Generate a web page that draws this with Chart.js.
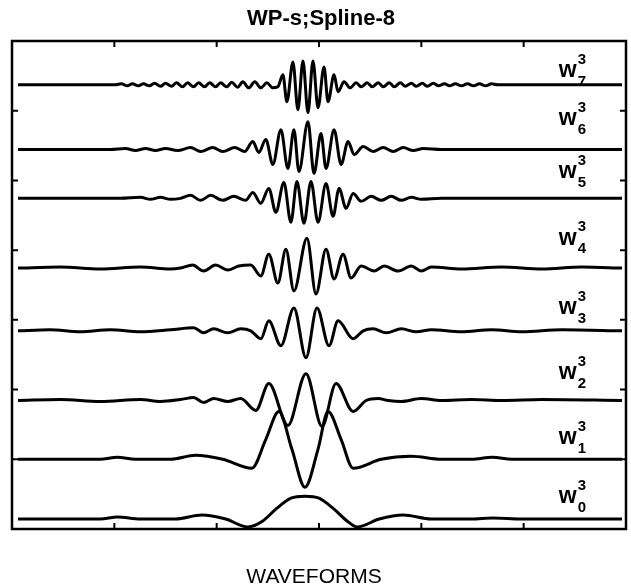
<!DOCTYPE html>
<html>
<head>
<meta charset="utf-8">
<script src="https://cdn.jsdelivr.net/npm/chart.js@4.4.0/dist/chart.umd.min.js"></script>
<style>
  html, body { margin: 0; padding: 0; background: #fff; }
  #wrap { width: 631px; height: 588px; }
</style>
</head>
<body>
<div id="wrap"><canvas id="wpChart" width="631" height="588"></canvas></div>
<script>
// ===== WP-s;Spline-8 — wavelet packet waveforms, level 3 =====

const chartTitle = 'WP-s;Spline-8';
const xTitle = 'WAVEFORMS';

// packet index k for w^3_k, bottom to top
const packetIdx = ['0', '1', '2', '3', '4', '5', '6', '7'];
// baseline of each trace and height of its label (y units)
const baseLevels = [10, 70, 129, 199, 262, 332, 381, 446];
const labelLevels = [32, 92, 157, 222, 292, 359, 412, 460];

// axis ticks (no tick labels in the figure)
const xTickVals = [102, 204, 306, 408, 510];
const yTickVals = [70, 140, 210, 280, 350, 420];

// ===== traces: sample positions + amplitude about the baseline =====
const xW0 = [6, 88, 105, 128, 163, 189, 213, 235, 250, 263, 278, 292, 306, 321, 334, 344, 366, 390, 418, 458, 479, 508, 608];
const yW0 = [0, 0, 2, 0, 0, 4, 0, -8, -2, 10, 21, 23, 21, 10, -2, -8, 0, 4, 0, 0, 1, 0, 0];

const xW1 = [6, 88, 105, 123, 158, 183, 210, 239, 253, 266, 279, 292, 305, 315, 328, 340, 368, 398, 428, 458, 479, 498, 608];
const yW1 = [0, 0, 2, 0, 0, 4, 0, -9, 20, 48, 10, -28, 10, 48, 20, -9, 0, 3, 0, 0, 2, 0, 0];

const xW2 = [6, 48, 88, 128, 148, 168, 181, 191, 201, 215, 228, 243, 256, 275, 293, 309, 323, 340, 353, 365, 375, 388, 408, 428, 458, 488, 528, 608];
const yW2 = [0, 1, -1, 1, -1, 1, 3, -2, 2, -1, 2, -10, 17, -25, 27, -26, 17, -11, 0, 2, 0, -1, 2, 0, 1, 0, 1, 0];

const xW3 = [6, 38, 68, 98, 128, 158, 181, 191, 201, 215, 228, 238, 248, 256, 268, 281, 293, 304, 316, 325, 340, 350, 360, 373, 388, 403, 418, 448, 478, 508, 548, 608];
const yW3 = [0, 1, -1, 1, -1, 1, 3, -2, 2, -2, 2, 0, -8, 10, -15, 23, -27, 23, -15, 10, -8, 0, 2, -2, 2, -1, 1, -1, 1, -1, 1, 0];

const xW4 = [6, 48, 88, 128, 158, 168, 180, 191, 203, 215, 226, 238, 248, 256, 265, 273, 281, 294, 303, 313, 321, 330, 338, 348, 361, 371, 385, 398, 408, 418, 448, 488, 528, 568, 608];
const yW4 = [0, 1, -1, 1, -1, 0, 3, -3, 3, -2, 2, 3, -8, 14, -15, 19, -23, 30, -26, 19, -11, 14, -10, 2, -3, 2, -3, 2, -3, 1, -1, 1, -1, 1, 0];

const xW5 = [6, 108, 128, 138, 148, 158, 168, 178, 188, 198, 210, 221, 233, 240, 248, 256, 263, 271, 278, 284, 291, 298, 305, 313, 320, 326, 333, 340, 348, 358, 368, 378, 388, 398, 408, 428, 608];
const yW5 = [0, 0, 1, -1, 1, -1, 0, 3, -2, 3, -2, 2, -2, 6, -5, 10, -14, 16, -24, 17, -25, 17, -24, 15, -18, 10, -10, 5, -3, 2, -2, 2, -2, 1, -1, 0, 0];

const xW6 = [6, 98, 113, 123, 133, 143, 153, 165, 178, 188, 200, 210, 222, 232, 240, 246, 253, 260, 268, 275, 281, 286, 295, 301, 308, 313, 321, 328, 335, 341, 350, 360, 370, 380, 390, 400, 410, 428, 608];
const yW6 = [0, 0, 1, -1, 1, -1, 1, -1, 2, -2, 2, -2, 2, -2, 8, -3, 10, -15, 20, -19, 20, -22, 28, -24, 16, -19, 20, -15, 8, -5, 3, -2, 2, -2, 2, -1, 1, 0, 0];

const xW7 = [6, 103, 109, 115, 120, 126, 131, 137, 142, 148, 153, 159, 164, 170, 175, 181, 186, 192, 197, 203, 208, 214, 219, 225, 230, 236, 242, 248, 254, 260, 265, 270, 274, 280, 285, 290, 295, 300, 305, 311, 315, 321, 325, 331, 337, 343, 348, 354, 359, 365, 370, 376, 381, 387, 392, 398, 403, 409, 414, 420, 425, 431, 436, 442, 448, 454, 460, 466, 472, 478, 484, 608];
const yW7 = [0, 0, 1, -1, 1, -1, 1, -1, 1.5, -1.5, 1.5, -1.5, 2, -2, 2, -2, 2, -2, 2, -2, 2, -2, 2.5, -2.5, 3, -3, 3, -3, 2, -3, -2, 10, -17, 23, -25, 24, -28, 24, -23, 18, -17, 10, -7, 3, -3, 2, -2, 2, -2, 2, -2, 2, -2, 2, -1.5, 1.5, -1.5, 1.5, -1.5, 1.5, -1, 1, -1, 1, -1, 1, -1, 1, -1, 1, 0, 0];

const traceX = [xW0, xW1, xW2, xW3, xW4, xW5, xW6, xW7];
const traceY = [yW0, yW1, yW2, yW3, yW4, yW5, yW6, yW7];

// ===== Common style =====
const fontFamily = "'Liberation Sans', Arial, Helvetica, sans-serif";
const ink = '#000000';

// ===== Frame, inward ticks, trace labels, titles =====
const framePlugin = {
  id: 'framePlugin',
  afterDatasetsDraw(chart) {
    const { ctx, chartArea: a, scales: { x, y } } = chart;
    ctx.save();
    ctx.strokeStyle = ink;
    ctx.fillStyle = ink;

    // box
    ctx.lineWidth = 2.5;
    ctx.strokeRect(a.left, a.top, a.right - a.left, a.bottom - a.top);

    // ticks pointing into the box
    ctx.lineWidth = 2;
    ctx.beginPath();
    xTickVals.forEach(v => {
      const px = x.getPixelForValue(v);
      ctx.moveTo(px, a.top); ctx.lineTo(px, a.top + 6);
      ctx.moveTo(px, a.bottom); ctx.lineTo(px, a.bottom - 6);
    });
    yTickVals.forEach(v => {
      const py = y.getPixelForValue(v);
      ctx.moveTo(a.left, py); ctx.lineTo(a.left + 6, py);
      ctx.moveTo(a.right, py); ctx.lineTo(a.right - 6, py);
    });
    ctx.stroke();

    // w^3_k labels
    ctx.textBaseline = 'middle';
    ctx.textAlign = 'left';
    packetIdx.forEach((k, i) => {
      const px = x.getPixelForValue(545);
      const py = y.getPixelForValue(labelLevels[i]);
      ctx.font = 'bold 23px ' + fontFamily;
      ctx.fillText('w', px, py);
      const wWidth = ctx.measureText('w').width;
      ctx.font = 'bold 15px ' + fontFamily;
      ctx.fillText('3', px + wWidth + 1, py - 11);
      ctx.fillText(k, px + wWidth + 1, py + 11);
    });

    // title and axis caption
    const cx = (a.left + a.right) / 2;
    ctx.textAlign = 'center';
    ctx.font = 'bold 22px ' + fontFamily;
    ctx.fillText(chartTitle, cx + 2, 19);
    ctx.font = '21px ' + fontFamily;
    ctx.fillText(xTitle, cx - 5, 577);
    ctx.restore();
  }
};

// ===== Build chart =====
function initWaveChart() {
  const el = document.getElementById('wpChart');
  if (!el) return;

  const datasets = packetIdx.map((k, i) => ({
    label: 'w3_' + k,
    data: traceX[i].map((xv, j) => ({ x: xv, y: baseLevels[i] + traceY[i][j] })),
    borderColor: ink,
    borderWidth: 3,
    pointRadius: 0,
    fill: false,
    cubicInterpolationMode: 'monotone'
  }));

  new Chart(el, {
    type: 'line',
    data: { datasets },
    options: {
      responsive: false,
      animation: false,
      devicePixelRatio: 1,
      layout: { padding: { left: 12, right: 5, top: 41, bottom: 59 } },
      plugins: {
        legend: { display: false },
        tooltip: { enabled: false },
        title: { display: false }
      },
      scales: {
        x: { type: 'linear', min: 0, max: 612, display: false },
        y: { type: 'linear', min: 0, max: 490, display: false }
      }
    },
    plugins: [framePlugin]
  });
}

document.addEventListener('DOMContentLoaded', () => {
  if (typeof Chart !== 'undefined') initWaveChart();
});
</script>
</body>
</html>
